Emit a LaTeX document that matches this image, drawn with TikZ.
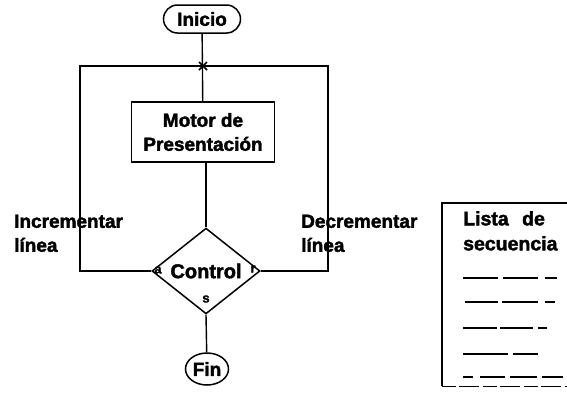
\documentclass[tikz,border=0pt]{standalone}
\usepackage{fontspec}
\setmainfont{Liberation Sans}[BoldFont={Liberation Sans Bold}, BoldFeatures={FakeBold=2}]
\usetikzlibrary{shapes.geometric}
\tikzset{
  lbl/.style={font=\bfseries\fontsize{19}{24}\selectfont, inner sep=0pt},
  flow/.style={draw, line width=1.5pt},
  conn/.style={line width=1.4pt},
  tiny/.style={font=\bfseries\fontsize{13}{14}\selectfont, inner sep=0pt},
  seq/.style={line width=1.1pt}
}
\begin{document}
\begin{tikzpicture}[x=1pt,y=-1pt]
\useasboundingbox (0,0) rectangle (567,392);
% nodes
\node[flow, lbl, rounded corners=14pt, minimum width=77pt, minimum height=28pt] (inicio) at (202,19) {Inicio};
\node[flow, lbl, align=center, minimum width=143pt, minimum height=60pt] (motor) at (203,132) {Motor de\\Presentación};
\node[flow, lbl, font=\bfseries\fontsize{20}{24}\selectfont, diamond, inner sep=0pt, minimum width=108pt, minimum height=82pt] (control) at (206,271) {Control};
\node[flow, lbl, ellipse, inner sep=0pt, minimum width=43pt, minimum height=32pt] (fin) at (207,369) {Fin};
% loop corners
\coordinate (cross) at (203,66);
\coordinate (tl) at (80,66);
\coordinate (tr) at (328,66);
\coordinate (bl) at (80,271);
\coordinate (br) at (328,271);
% connectors
\draw[conn] (inicio) -- (motor);
\draw[conn] (motor.south -| control.north) -- (control.north);
\draw[conn] (control.south) -- (fin);
\draw[conn] (control.west) -- (bl) -- (tl) -- (tr) -- (br) -- (control.east);
% crossing mark
\draw[line width=1.6pt] ([shift={(-4,-4)}]cross) -- ([shift={(4,4)}]cross);
\draw[line width=1.6pt] ([shift={(-4,4)}]cross) -- ([shift={(4,-4)}]cross);
% small branch letters
\node[tiny] (la) at (158,270) {a};
\node[tiny] (lr) at (253,269) {r};
\node[tiny] (ls) at (206,299) {s};
% side labels
\node[lbl, align=left, anchor=north west] (inc) at (14,214.5) {Incrementar\\línea};
\node[lbl, align=left, anchor=north west] (dec) at (301,214.5) {Decrementar\\línea};
% sequence list
\draw[line width=1.2pt] (567,203) -- (442,203) -- (442,386);
\draw[line width=1pt, dash pattern=on 14pt off 3pt on 20pt off 4pt] (442,386) -- (567,386);
\node[font=\bfseries\fontsize{19.5}{25}\selectfont, inner sep=0pt, align=left, anchor=north west] (lista) at (463,211) {Lista\hspace{8pt} de\\secuencia};
\draw[seq] (463,278) -- (498,278) (503,278) -- (538,278) (545,278) -- (557,278);
\draw[seq] (465,302) -- (498,302) (502,302) -- (538,302) (545,302) -- (555,302);
\draw[seq] (463,328) -- (497,328) (500,328) -- (533,328) (538,328) -- (547,328);
\draw[line width=1.8pt] (463,354) -- (508,354);
\draw[seq] (513,354) -- (538,354);
\draw[seq] (463,377) -- (473,377) (480,377) -- (505,377) (510,377) -- (537,377) (542,377) -- (563,377);
\end{tikzpicture}
\end{document}
